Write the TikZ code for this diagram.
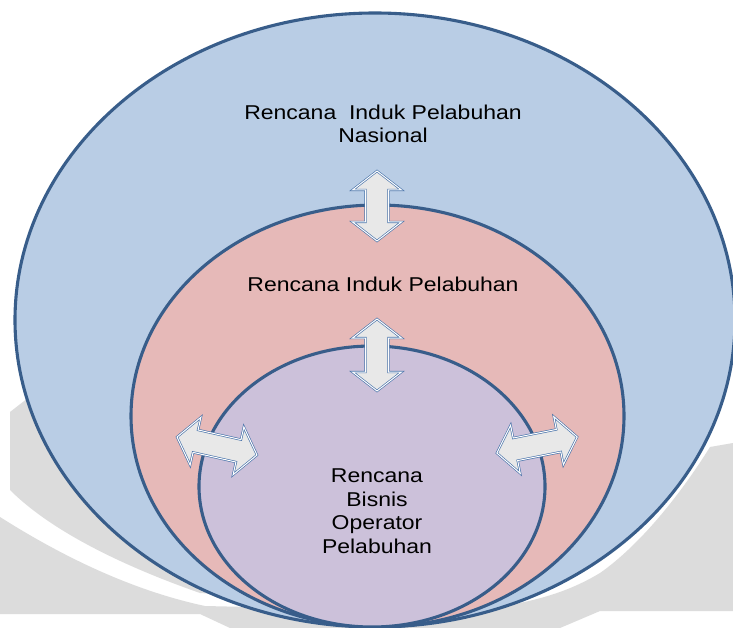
\documentclass[tikz,border=0pt]{standalone}
\usepackage{fontspec}
\setmainfont{Liberation Sans}[FakeStretch=1.15]
\definecolor{ringline}{HTML}{385D8A}
\definecolor{outerfill}{HTML}{B9CDE5}
\definecolor{midfill}{HTML}{E6B9B8}
\definecolor{innerfill}{HTML}{CCC1DA}
\definecolor{arrowline}{HTML}{4A74AA}
\definecolor{arrowbody}{HTML}{E8E8E8}
\definecolor{markgrey}{HTML}{DCDCDC}
\tikzset{
  ring/.style={draw=ringline, line width=3.1pt},
  twoway/.style={draw=arrowline, line width=0.65pt, double=white,
    double distance=1pt, fill=arrowbody, line join=miter},
  label/.style={align=center, text=black, inner sep=0pt,
    font=\fontsize{20}{23.5}\selectfont},
  % double-headed block arrow of half-length #1
  pics/blockarrow/.style={code={
    \path[twoway] (-#1,0) -- (-#1+19,-24.5) -- (-#1+19,-11.5)
      -- (#1-19,-11.5) -- (#1-19,-24.5) -- (#1,0) -- (#1-19,24.5)
      -- (#1-19,11.5) -- (-#1+19,11.5) -- (-#1+19,24.5) -- cycle;
  }}
}
\begin{document}
\begin{tikzpicture}[x=1pt, y=-1pt]
\useasboundingbox (0,0) rectangle (733,628);
\fill[white] (0,0) rectangle (733,628);
\clip (0,0) rectangle (733,628);

% faint watermark shapes behind the rings
\fill[markgrey] (10,412) -- (28,398) -- (250,520) -- (300,600) -- (200,593)
  .. controls (120,565) and (50,530) .. (10,490) -- cycle;
\fill[markgrey] (0,517) .. controls (60,555) and (130,590) .. (205,606)
  -- (380,610) -- (380,628) -- (230,628) -- (200,614) -- (0,614) -- cycle;
\fill[markgrey] (733,443) -- (710,447) .. controls (680,495) and (640,545) .. (600,573)
  .. controls (575,588) and (550,597) .. (515,604) -- (380,610) -- (380,628)
  -- (560,628) -- (600,611) -- (733,611) -- cycle;

% nested rings, all touching at the bottom
\path[ring, fill=outerfill] (375,320) ellipse [x radius=360pt, y radius=307pt];
\path[ring, fill=midfill] (377.5,416) ellipse [x radius=246.5pt, y radius=211pt];
\path[ring, fill=innerfill] (372,486.5) ellipse [x radius=173pt, y radius=140.5pt];

% two-way arrows between the rings
\pic[rotate=-90] at (377,206) {blockarrow=35};
\pic[rotate=-90] at (377,355) {blockarrow=36};
\pic[rotate=-12.7] at (217,446) {blockarrow=41};
\pic[rotate=11.3] at (537,445) {blockarrow=41};

% labels
\node[label] (national) at (383,124) {Rencana\ \ Induk Pelabuhan\\Nasional};
\node[label] (master) at (383,284) {Rencana Induk Pelabuhan};
\node[label] (business) at (377,511) {Rencana\\Bisnis\\Operator\\Pelabuhan};
\end{tikzpicture}
\end{document}
